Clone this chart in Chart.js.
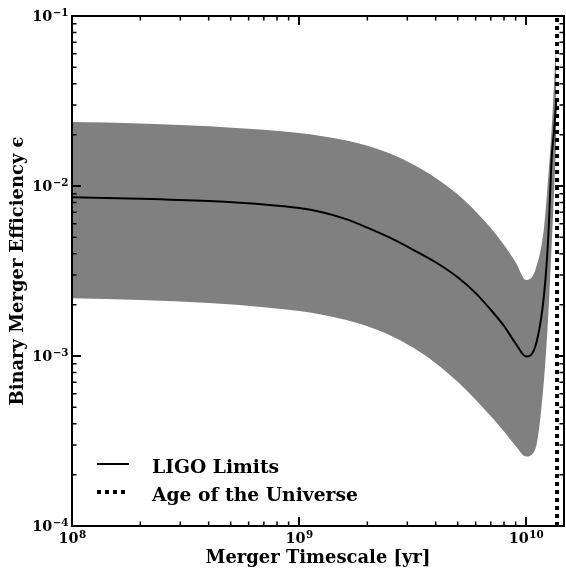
<!DOCTYPE html>
<html>
<head>
<meta charset="utf-8">
<script src="https://cdn.jsdelivr.net/npm/chart.js@4.4.1/dist/chart.umd.min.js"></script>
<style>
    html, body { margin: 0; padding: 0; background: #fff; }
    canvas { display: block; }
</style>
</head>
<body>
<canvas id="chartLigo" width="566" height="572"></canvas>
<script>
// merger timescale [yr]
const mergerTime = [1e8, 2e8, 4e8, 7e8, 1e9, 1.25e9, 1.6e9, 2e9, 2.5e9, 3.2e9, 4e9, 5e9, 6e9, 7e9, 8e9, 9e9,
    1e10, 1.1e10, 1.2e10, 1.25e10, 1.3e10, 1.33e10, 1.36e10];

// binary merger efficiency
const ligoLimit = [8.58e-3, 8.42e-3, 8.15e-3, 7.79e-3, 7.42e-3, 7.03e-3, 6.41e-3, 5.69e-3, 4.98e-3, 4.20e-3,
    3.56e-3, 2.904e-3, 2.344e-3, 1.867e-3, 1.501e-3, 1.185e-3, 9.93e-4, 1.145e-3, 2.284e-3, 4.68e-3,
    1.522e-2, 2.135e-2, 3.21e-2];
const ligoUpper = [2.378e-2, 2.334e-2, 2.248e-2, 2.141e-2, 2.050e-2, 1.971e-2, 1.859e-2, 1.726e-2, 1.559e-2,
    1.334e-2, 1.116e-2, 8.93e-3, 7.08e-3, 5.66e-3, 4.50e-3, 3.56e-3, 2.80e-3, 3.21e-3, 5.66e-3, 1.084e-2,
    2.284e-2, 4.09e-2, 7.22e-2];
const ligoLower = [2.185e-3, 2.135e-3, 2.047e-3, 1.937e-3, 1.837e-3, 1.757e-3, 1.635e-3, 1.495e-3, 1.327e-3,
    1.113e-3, 9.08e-4, 7.05e-4, 5.53e-4, 4.42e-4, 3.60e-4, 2.96e-4, 2.563e-4, 2.837e-4, 7.22e-4, 1.628e-3,
    4.81e-3, 9.47e-3, 1.865e-2];

const ageOfUniverse = 1.37e10;
const effRange = [1e-4, 1e-1];

const xTicks = [1e8, 1e9, 1e10];
const xTickExp = ['8', '9', '10'];
const yTicks = [1e-4, 1e-3, 1e-2, 1e-1];
const yTickExp = ['\u22124', '\u22123', '\u22122', '\u22121'];

const legendLabels = ['LIGO Limits', 'Age of the Universe'];
const xTitle = 'Merger Timescale [yr]';
const yTitle = 'Binary Merger Efficiency \u03f5';

const FONT = "'DejaVu Serif', 'Liberation Serif', serif";

// pick font sizes so the bold serif text gets the widths seen in the picture
const measureCtx = document.createElement('canvas').getContext('2d');
function fitSize(text, width) {
    measureCtx.font = 'bold 100px ' + FONT;
    return 100 * width / measureCtx.measureText(text).width;
}
const titleSize = fitSize(xTitle, 225);
const legendSize = fitSize(legendLabels[1], 206);
const tickSize = fitSize('10', 20);
const expSize = tickSize * 0.72;

function pts(xs, ys) {
    return xs.map((v, i) => ({ x: v, y: ys[i] }));
}

function drawPow(ctx, exp, x, y, align) {
    ctx.font = 'bold ' + tickSize + 'px ' + FONT;
    const wb = ctx.measureText('10').width;
    ctx.font = 'bold ' + expSize + 'px ' + FONT;
    const we = ctx.measureText(exp).width;
    const x0 = align === 'right' ? x - wb - we : x - (wb + we) / 2;
    ctx.textAlign = 'left';
    ctx.textBaseline = 'alphabetic';
    ctx.font = 'bold ' + tickSize + 'px ' + FONT;
    ctx.fillText('10', x0, y);
    ctx.font = 'bold ' + expSize + 'px ' + FONT;
    ctx.fillText(exp, x0 + wb + 0.5, y - 5.5);
}

function logTicks(scale) {
    const out = [];
    const d0 = Math.floor(Math.log10(scale.min));
    const d1 = Math.ceil(Math.log10(scale.max));
    for (let d = d0; d <= d1; d++) {
        for (let k = 1; k <= 9; k++) {
            const v = k * Math.pow(10, d);
            if (v >= scale.min * 0.999 && v <= scale.max * 1.001) {
                out.push({ px: scale.getPixelForValue(v), major: k === 1 });
            }
        }
    }
    return out;
}

const frameAndTicks = {
    id: 'frameAndTicks',
    afterDatasetsDraw(chart) {
        const { ctx, chartArea: a, scales } = chart;
        ctx.save();
        ctx.strokeStyle = '#000';
        ctx.fillStyle = '#000';

        // inward ticks on all four sides
        logTicks(scales.x).forEach(t => {
            const len = t.major ? 9 : 4.5;
            ctx.lineWidth = t.major ? 2 : 1.5;
            ctx.beginPath();
            ctx.moveTo(t.px, a.bottom); ctx.lineTo(t.px, a.bottom - len);
            ctx.moveTo(t.px, a.top); ctx.lineTo(t.px, a.top + len);
            ctx.stroke();
        });
        logTicks(scales.y).forEach(t => {
            const len = t.major ? 9 : 4.5;
            ctx.lineWidth = t.major ? 2 : 1.5;
            ctx.beginPath();
            ctx.moveTo(a.left, t.px); ctx.lineTo(a.left + len, t.px);
            ctx.moveTo(a.right, t.px); ctx.lineTo(a.right - len, t.px);
            ctx.stroke();
        });

        ctx.lineWidth = 2;
        ctx.strokeRect(a.left, a.top, a.right - a.left, a.bottom - a.top);

        // tick labels
        xTicks.forEach((v, i) => drawPow(ctx, xTickExp[i], scales.x.getPixelForValue(v), a.bottom + 17, 'center'));
        yTicks.forEach((v, i) => drawPow(ctx, yTickExp[i], a.left - 4, scales.y.getPixelForValue(v) + 5, 'right'));

        // legend
        const lx = a.left + 25;
        ctx.lineWidth = 2;
        ctx.beginPath();
        ctx.moveTo(lx, a.bottom - 62); ctx.lineTo(lx + 32, a.bottom - 62);
        ctx.stroke();
        ctx.lineWidth = 4;
        ctx.setLineDash([4, 4]);
        ctx.beginPath();
        ctx.moveTo(lx, a.bottom - 34); ctx.lineTo(lx + 32, a.bottom - 34);
        ctx.stroke();
        ctx.setLineDash([]);
        ctx.font = 'bold ' + legendSize + 'px ' + FONT;
        ctx.textAlign = 'left';
        ctx.textBaseline = 'alphabetic';
        ctx.fillText(legendLabels[0], a.left + 80, a.bottom - 53);
        ctx.fillText(legendLabels[1], a.left + 80, a.bottom - 25);
        ctx.restore();
    }
};

const configChartLigo = {
    type: 'line',
    data: {
        datasets: [
            {
                label: 'upper',
                data: pts(mergerTime, ligoUpper),
                borderWidth: 0,
                pointRadius: 0,
                backgroundColor: 'rgb(128,128,128)',
                fill: '+1',
                cubicInterpolationMode: 'monotone',
                order: 3
            },
            {
                label: 'lower',
                data: pts(mergerTime, ligoLower),
                borderWidth: 0,
                pointRadius: 0,
                fill: false,
                cubicInterpolationMode: 'monotone',
                order: 3
            },
            {
                label: legendLabels[0],
                data: pts(mergerTime, ligoLimit),
                borderColor: '#000',
                borderWidth: 2,
                pointRadius: 0,
                fill: false,
                cubicInterpolationMode: 'monotone',
                order: 2
            },
            {
                label: legendLabels[1],
                data: pts([ageOfUniverse, ageOfUniverse], effRange),
                borderColor: '#000',
                borderWidth: 4,
                borderDash: [4, 4],
                borderCapStyle: 'butt',
                pointRadius: 0,
                fill: false,
                order: 1
            }
        ]
    },
    options: {
        responsive: false,
        animation: false,
        layout: {
            padding: { top: 16, right: 2, left: 0, bottom: 0 }
        },
        plugins: {
            legend: { display: false },
            tooltip: { enabled: false }
        },
        scales: {
            x: {
                type: 'logarithmic',
                min: 1e8,
                max: 1.47e10,
                grid: { display: false },
                border: { display: false },
                ticks: { display: false },
                title: {
                    display: true,
                    text: xTitle,
                    color: '#000',
                    font: { family: FONT, size: titleSize, weight: 'bold', lineHeight: 1 },
                    padding: { top: 0, bottom: 5 }
                },
                afterFit: (s) => { s.height = 46; }
            },
            y: {
                type: 'logarithmic',
                min: effRange[0],
                max: effRange[1],
                grid: { display: false },
                border: { display: false },
                ticks: { display: false },
                title: {
                    display: true,
                    text: yTitle,
                    color: '#000',
                    font: { family: FONT, size: titleSize, weight: 'bold', lineHeight: 1 },
                    padding: { top: 9, bottom: 0 }
                },
                afterFit: (s) => { s.width = 72; }
            }
        }
    },
    plugins: [frameAndTicks]
};

let chartLigo = document.getElementById('chartLigo');
let oChartLigo = new Chart(chartLigo, configChartLigo);
</script>
</body>
</html>
